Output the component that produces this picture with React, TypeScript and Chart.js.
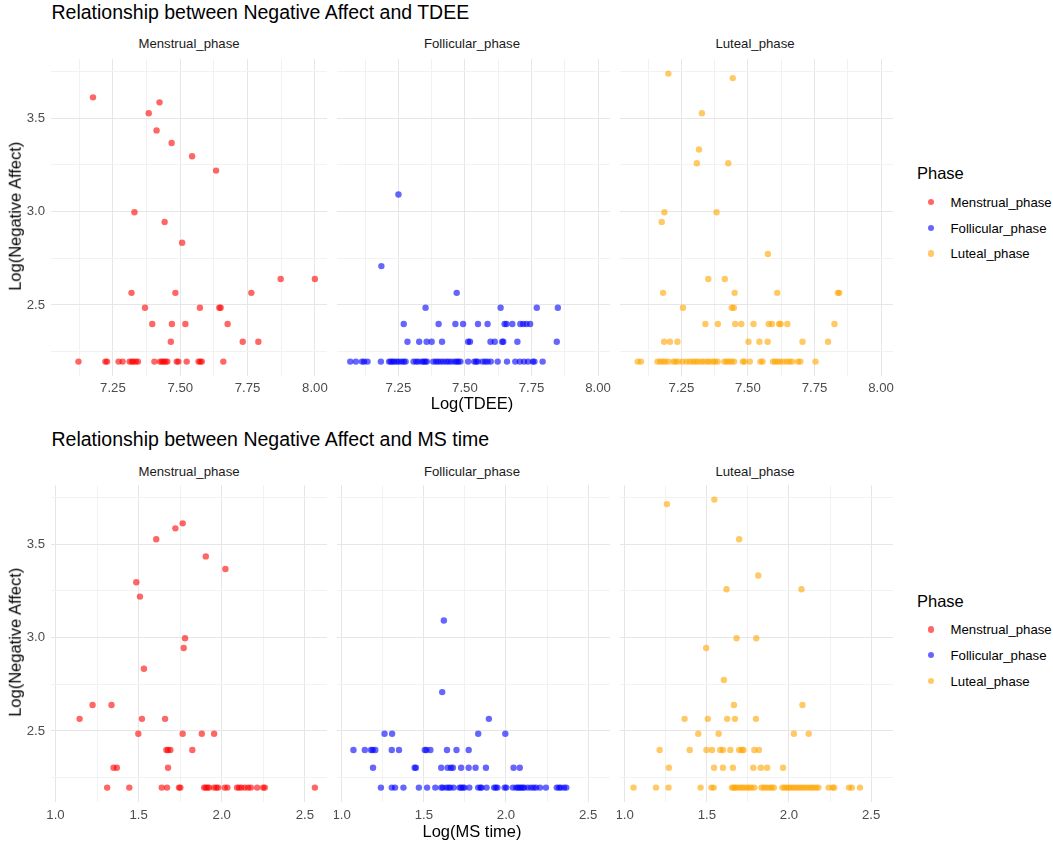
import React, { useEffect, useRef } from 'react';
import { Chart, registerables } from 'chart.js';

Chart.register(...registerables);

type Pt = [number, number];

const FONT = '"Liberation Sans", Arial, Helvetica, sans-serif';

// ---- data: [log(x), log(Negative Affect)] ----

const tdeeMenstrual: Pt[] = [
    [7.176, 3.611], [7.423, 3.584], [7.383, 3.526], [7.412, 3.434], [7.468, 3.367],
    [7.544, 3.296], [7.633, 3.219], [7.330, 2.996], [7.442, 2.944], [7.507, 2.833],
    [7.873, 2.639], [8.000, 2.639], [7.319, 2.565], [7.482, 2.565], [7.764, 2.565],
    [7.369, 2.485], [7.573, 2.485], [7.645, 2.485], [7.650, 2.485],
    [7.396, 2.398], [7.469, 2.398], [7.519, 2.398], [7.676, 2.398],
    [7.465, 2.303], [7.732, 2.303], [7.790, 2.303],
    [7.122, 2.197], [7.222, 2.197], [7.228, 2.197], [7.271, 2.197], [7.286, 2.197],
    [7.312, 2.197], [7.320, 2.197], [7.326, 2.197], [7.335, 2.197], [7.343, 2.197],
    [7.404, 2.197], [7.425, 2.197], [7.432, 2.197], [7.438, 2.197], [7.445, 2.197],
    [7.452, 2.197], [7.487, 2.197], [7.493, 2.197], [7.524, 2.197], [7.568, 2.197],
    [7.574, 2.197], [7.580, 2.197], [7.660, 2.197],
];

const tdeeFollicular: Pt[] = [
    [7.250, 3.091], [7.186, 2.708], [7.469, 2.565],
    [7.352, 2.485], [7.634, 2.485], [7.770, 2.485], [7.849, 2.485],
    [7.270, 2.398], [7.401, 2.398], [7.464, 2.398], [7.493, 2.398], [7.549, 2.398],
    [7.585, 2.398], [7.649, 2.398], [7.656, 2.398], [7.678, 2.398], [7.708, 2.398],
    [7.719, 2.398], [7.731, 2.398], [7.745, 2.398],
    [7.284, 2.303], [7.328, 2.303], [7.356, 2.303], [7.375, 2.303], [7.414, 2.303],
    [7.512, 2.303], [7.519, 2.303], [7.596, 2.303], [7.612, 2.303], [7.640, 2.303],
    [7.644, 2.303], [7.697, 2.303], [7.845, 2.303],
    [7.069, 2.197], [7.090, 2.197], [7.113, 2.197], [7.121, 2.197], [7.134, 2.197],
    [7.184, 2.197], [7.215, 2.197], [7.221, 2.197], [7.228, 2.197], [7.234, 2.197],
    [7.243, 2.197], [7.251, 2.197], [7.261, 2.197], [7.270, 2.197], [7.277, 2.197],
    [7.307, 2.197], [7.317, 2.197], [7.325, 2.197], [7.338, 2.197], [7.345, 2.197],
    [7.351, 2.197], [7.357, 2.197], [7.381, 2.197], [7.391, 2.197], [7.399, 2.197],
    [7.409, 2.197], [7.419, 2.197], [7.430, 2.197], [7.439, 2.197], [7.449, 2.197],
    [7.461, 2.197], [7.469, 2.197], [7.475, 2.197], [7.483, 2.197], [7.512, 2.197],
    [7.535, 2.197], [7.542, 2.197], [7.548, 2.197], [7.566, 2.197], [7.576, 2.197],
    [7.585, 2.197], [7.597, 2.197], [7.623, 2.197], [7.658, 2.197], [7.689, 2.197],
    [7.706, 2.197], [7.722, 2.197], [7.737, 2.197], [7.755, 2.197], [7.761, 2.197],
    [7.792, 2.197],
];

const tdeeLuteal: Pt[] = [
    [7.201, 3.738], [7.443, 3.714], [7.327, 3.526], [7.316, 3.332], [7.308, 3.258],
    [7.426, 3.258], [7.186, 2.996], [7.382, 2.996], [7.176, 2.944], [7.575, 2.773],
    [7.351, 2.639], [7.413, 2.639],
    [7.181, 2.565], [7.450, 2.565], [7.610, 2.565], [7.838, 2.565], [7.843, 2.565],
    [7.256, 2.485], [7.439, 2.485], [7.447, 2.485],
    [7.340, 2.398], [7.387, 2.398], [7.452, 2.398], [7.475, 2.398], [7.521, 2.398],
    [7.578, 2.398], [7.590, 2.398], [7.617, 2.398], [7.623, 2.398], [7.648, 2.398],
    [7.825, 2.398],
    [7.185, 2.303], [7.207, 2.303], [7.235, 2.303], [7.502, 2.303], [7.543, 2.303],
    [7.574, 2.303], [7.705, 2.303], [7.801, 2.303],
    [7.086, 2.197], [7.098, 2.197], [7.160, 2.197], [7.170, 2.197], [7.180, 2.197],
    [7.189, 2.197], [7.201, 2.197], [7.220, 2.197], [7.228, 2.197], [7.238, 2.197],
    [7.254, 2.197], [7.269, 2.197], [7.281, 2.197], [7.293, 2.197], [7.302, 2.197],
    [7.312, 2.197], [7.324, 2.197], [7.334, 2.197], [7.347, 2.197], [7.355, 2.197],
    [7.368, 2.197], [7.376, 2.197], [7.386, 2.197], [7.411, 2.197], [7.420, 2.197],
    [7.429, 2.197], [7.439, 2.197], [7.448, 2.197], [7.481, 2.197], [7.487, 2.197],
    [7.507, 2.197], [7.547, 2.197], [7.555, 2.197], [7.594, 2.197], [7.602, 2.197],
    [7.612, 2.197], [7.621, 2.197], [7.633, 2.197], [7.646, 2.197], [7.656, 2.197],
    [7.666, 2.197], [7.688, 2.197], [7.697, 2.197], [7.754, 2.197],
];

const msMenstrual: Pt[] = [
    [1.765, 3.611], [1.721, 3.584], [1.606, 3.526], [1.904, 3.434], [2.022, 3.367],
    [1.486, 3.296], [1.508, 3.219], [1.779, 2.996], [1.771, 2.944], [1.532, 2.833],
    [1.223, 2.639], [1.337, 2.639],
    [1.145, 2.565], [1.520, 2.565], [1.659, 2.565],
    [1.498, 2.485], [1.765, 2.485], [1.880, 2.485], [1.954, 2.485],
    [1.667, 2.398], [1.677, 2.398], [1.691, 2.398], [1.823, 2.398],
    [1.349, 2.303], [1.369, 2.303], [1.677, 2.303],
    [1.311, 2.197], [1.444, 2.197], [1.639, 2.197], [1.671, 2.197], [1.743, 2.197],
    [1.751, 2.197], [1.894, 2.197], [1.904, 2.197], [1.914, 2.197], [1.924, 2.197],
    [1.954, 2.197], [1.968, 2.197], [1.978, 2.197], [2.018, 2.197], [2.034, 2.197],
    [2.092, 2.197], [2.104, 2.197], [2.118, 2.197], [2.139, 2.197], [2.159, 2.197],
    [2.175, 2.197], [2.213, 2.197], [2.249, 2.197], [2.259, 2.197], [2.560, 2.197],
];

const msFollicular: Pt[] = [
    [1.622, 3.091], [1.612, 2.708], [1.896, 2.565],
    [1.261, 2.485], [1.307, 2.485], [1.831, 2.485], [1.996, 2.485],
    [1.072, 2.398], [1.141, 2.398], [1.179, 2.398], [1.189, 2.398], [1.205, 2.398],
    [1.305, 2.398], [1.349, 2.398], [1.506, 2.398], [1.516, 2.398], [1.540, 2.398],
    [1.641, 2.398], [1.699, 2.398], [1.773, 2.398],
    [1.191, 2.303], [1.444, 2.303], [1.452, 2.303], [1.606, 2.303], [1.645, 2.303],
    [1.665, 2.303], [1.677, 2.303], [1.727, 2.303], [1.773, 2.303], [1.815, 2.303],
    [1.878, 2.303], [2.046, 2.303], [2.084, 2.303],
    [1.239, 2.197], [1.305, 2.197], [1.325, 2.197], [1.376, 2.197], [1.470, 2.197],
    [1.520, 2.197], [1.570, 2.197], [1.606, 2.197], [1.616, 2.197], [1.637, 2.197],
    [1.651, 2.197], [1.661, 2.197], [1.681, 2.197], [1.717, 2.197], [1.727, 2.197],
    [1.737, 2.197], [1.747, 2.197], [1.777, 2.197], [1.831, 2.197], [1.845, 2.197],
    [1.851, 2.197], [1.882, 2.197], [1.928, 2.197], [1.938, 2.197], [1.948, 2.197],
    [1.992, 2.197], [2.002, 2.197], [2.042, 2.197], [2.062, 2.197], [2.072, 2.197],
    [2.082, 2.197], [2.092, 2.197], [2.102, 2.197], [2.112, 2.197], [2.133, 2.197],
    [2.153, 2.197], [2.169, 2.197], [2.183, 2.197], [2.207, 2.197], [2.243, 2.197],
    [2.309, 2.197], [2.323, 2.197], [2.333, 2.197], [2.353, 2.197], [2.367, 2.197],
];

const msLuteal: Pt[] = [
    [1.257, 3.714], [1.546, 3.738], [1.697, 3.526], [1.813, 3.332], [1.620, 3.258],
    [2.076, 3.258], [1.681, 2.996], [1.801, 2.996], [1.496, 2.944], [1.604, 2.773],
    [1.665, 2.639], [2.082, 2.639],
    [1.365, 2.565], [1.506, 2.565], [1.624, 2.565], [1.671, 2.565], [1.799, 2.565],
    [1.448, 2.485], [1.572, 2.485], [2.030, 2.485], [2.120, 2.485],
    [1.213, 2.398], [1.396, 2.398], [1.498, 2.398], [1.532, 2.398], [1.582, 2.398],
    [1.598, 2.398], [1.643, 2.398], [1.697, 2.398], [1.713, 2.398], [1.723, 2.398],
    [1.789, 2.398], [1.817, 2.398],
    [1.269, 2.303], [1.544, 2.303], [1.598, 2.303], [1.659, 2.303], [1.783, 2.303],
    [1.829, 2.303], [1.867, 2.303], [1.964, 2.303],
    [1.054, 2.197], [1.191, 2.197], [1.267, 2.197], [1.462, 2.197], [1.528, 2.197],
    [1.542, 2.197], [1.653, 2.197], [1.663, 2.197], [1.673, 2.197], [1.683, 2.197],
    [1.699, 2.197], [1.713, 2.197], [1.727, 2.197], [1.743, 2.197], [1.757, 2.197],
    [1.771, 2.197], [1.789, 2.197], [1.833, 2.197], [1.847, 2.197], [1.863, 2.197],
    [1.880, 2.197], [1.894, 2.197], [1.908, 2.197], [1.960, 2.197], [1.974, 2.197],
    [1.988, 2.197], [2.000, 2.197], [2.014, 2.197], [2.028, 2.197], [2.044, 2.197],
    [2.058, 2.197], [2.074, 2.197], [2.088, 2.197], [2.104, 2.197], [2.120, 2.197],
    [2.135, 2.197], [2.149, 2.197], [2.165, 2.197], [2.179, 2.197], [2.241, 2.197],
    [2.265, 2.197], [2.275, 2.197], [2.365, 2.197], [2.382, 2.197], [2.432, 2.197],
];

const phases = ['Menstrual_phase', 'Follicular_phase', 'Luteal_phase'];
const phaseColors = ['rgba(255,0,0,0.6)', 'rgba(0,0,255,0.6)', 'rgba(255,165,0,0.6)'];

// axis breaks (major labelled, minor only gridlines) and limits
const tdeeMajor = [7.25, 7.5, 7.75, 8.0];
const tdeeMinor = [7.125, 7.375, 7.625, 7.875];
const tdeeLimits = [7.02, 8.045];
const msMajor = [1.0, 1.5, 2.0, 2.5];
const msMinor = [1.25, 1.75, 2.25];
const msLimits = [0.973, 2.633];
const naMajor = [2.5, 3.0, 3.5];
const naMinor = [2.25, 2.75, 3.25, 3.75];
const naLimits = [2.12, 3.815];

// layout
const PANEL_LEFT = [51, 334, 617];
const PANEL_W = 276;
const PANEL_H = 320;
const Y_AXIS_W = 51;
const X_AXIS_H = 26;
const RIGHT_PAD = 14;
const BASE = 0.8465; // baseline offset for line-height == font-size
const MAJOR_GRID = '#e6e6e6';
const MINOR_GRID = '#f2f2f2';
const TICK_COLOR = '#4d4d4d';

interface PanelProps {
    points: Pt[];
    color: string;
    xLimits: number[];
    xMajor: number[];
    xMinor: number[];
    digits: number;
    showY: boolean;
    left: number;
    top: number;
    tickPad: number;
}

const Panel: React.FC<PanelProps> = ({ points, color, xLimits, xMajor, xMinor, digits, showY, left, top, tickPad }) => {
    const canvasRef = useRef<HTMLCanvasElement | null>(null);
    const yw = showY ? Y_AXIS_W : 0;

    useEffect(() => {
        if (!canvasRef.current) return;
        const xTicks = [...xMajor, ...xMinor].sort((a, b) => a - b);
        const yTicks = [...naMajor, ...naMinor].sort((a, b) => a - b);

        const chart = new Chart(canvasRef.current, {
            type: 'scatter',
            data: {
                datasets: [{
                    data: points.map(([x, y]) => ({ x, y })),
                    backgroundColor: color,
                    borderWidth: 0,
                    pointRadius: 3.2,
                    pointHoverRadius: 3.2,
                }],
            },
            options: {
                animation: false,
                responsive: false,
                events: [],
                layout: { padding: { left: 0, right: RIGHT_PAD, top: 0, bottom: 0 } },
                plugins: { legend: { display: false }, tooltip: { enabled: false } },
                scales: {
                    x: {
                        type: 'linear',
                        min: xLimits[0],
                        max: xLimits[1],
                        border: { display: false },
                        grid: {
                            drawTicks: false,
                            lineWidth: 1,
                            color: (ctx: any) => (ctx.tick && xMinor.includes(ctx.tick.value) ? MINOR_GRID : MAJOR_GRID),
                        },
                        ticks: {
                            autoSkip: false,
                            maxRotation: 0,
                            minRotation: 0,
                            padding: tickPad,
                            color: TICK_COLOR,
                            font: { family: FONT, size: 13.2 },
                            callback: (v: any) => (xMajor.includes(Number(v)) ? Number(v).toFixed(digits) : ''),
                        },
                        afterBuildTicks: (s: any) => {
                            s.ticks = xTicks.map((value) => ({ value }));
                        },
                        afterFit: (s: any) => {
                            s.height = X_AXIS_H;
                            s.paddingLeft = 0;
                            s.paddingRight = 0;
                        },
                    },
                    y: {
                        type: 'linear',
                        min: naLimits[0],
                        max: naLimits[1],
                        border: { display: false },
                        grid: {
                            drawTicks: false,
                            lineWidth: 1,
                            color: (ctx: any) => (ctx.tick && naMinor.includes(ctx.tick.value) ? MINOR_GRID : MAJOR_GRID),
                        },
                        ticks: {
                            display: showY,
                            autoSkip: false,
                            padding: 6,
                            color: TICK_COLOR,
                            font: { family: FONT, size: 13.2 },
                            callback: (v: any) => (naMajor.includes(Number(v)) ? Number(v).toFixed(1) : ''),
                        },
                        afterBuildTicks: (s: any) => {
                            s.ticks = yTicks.map((value) => ({ value }));
                        },
                        afterFit: (s: any) => {
                            s.width = yw;
                            s.paddingTop = 0;
                            s.paddingBottom = 0;
                        },
                    },
                },
            },
        });

        return () => {
            chart.destroy();
        };
    }, []);

    return (
        <canvas
            ref={canvasRef}
            width={yw + PANEL_W + RIGHT_PAD}
            height={PANEL_H + X_AXIS_H}
            style={{ position: 'absolute', left: left - yw, top }}
        />
    );
};

interface TextProps {
    x: number;
    baseline: number;
    size: number;
    color?: string;
    center?: boolean;
    children: React.ReactNode;
}

const Text: React.FC<TextProps> = ({ x, baseline, size, color = '#000', center = false, children }) => (
    <div
        style={{
            position: 'absolute',
            left: center ? x - 200 : x,
            top: baseline - size * BASE,
            width: center ? 400 : undefined,
            textAlign: center ? 'center' : 'left',
            fontSize: size,
            lineHeight: `${size}px`,
            color,
            whiteSpace: 'nowrap',
        }}
    >
        {children}
    </div>
);

const rows = [
    {
        title: 'Relationship between Negative Affect and TDEE',
        xTitle: 'Log(TDEE)',
        panels: [tdeeMenstrual, tdeeFollicular, tdeeLuteal],
        xLimits: tdeeLimits,
        xMajor: tdeeMajor,
        xMinor: tdeeMinor,
        digits: 2,
        top: 56,
        tickPad: 4.5,
        titleBase: 19.3,
        stripBase: 48.3,
        xTitleBase: 408.7,
        legendBase: 179.3,
    },
    {
        title: 'Relationship between Negative Affect and MS time',
        xTitle: 'Log(MS time)',
        panels: [msMenstrual, msFollicular, msLuteal],
        xLimits: msLimits,
        xMajor: msMajor,
        xMinor: msMinor,
        digits: 1,
        top: 482,
        tickPad: 5.5,
        titleBase: 446.5,
        stripBase: 476,
        xTitleBase: 836.7,
        legendBase: 606.7,
    },
];

const App: React.FC = () => (
    <div
        style={{
            position: 'absolute',
            left: 0,
            top: 0,
            width: 1053,
            height: 848,
            background: '#fff',
            fontFamily: FONT,
            overflow: 'hidden',
        }}
    >
        {rows.map((row, r) => (
            <React.Fragment key={r}>
                <Text x={51.5} baseline={row.titleBase} size={19.5}>{row.title}</Text>
                {row.panels.map((pts, i) => (
                    <React.Fragment key={i}>
                        <Text x={PANEL_LEFT[i] + PANEL_W / 2} baseline={row.stripBase} size={13.2} color="#1a1a1a" center>
                            {phases[i]}
                        </Text>
                        <Panel
                            points={pts}
                            color={phaseColors[i]}
                            xLimits={row.xLimits}
                            xMajor={row.xMajor}
                            xMinor={row.xMinor}
                            digits={row.digits}
                            showY={i === 0}
                            left={PANEL_LEFT[i]}
                            top={row.top}
                            tickPad={row.tickPad}
                        />
                    </React.Fragment>
                ))}
                <Text x={PANEL_LEFT[1] + PANEL_W / 2} baseline={row.xTitleBase} size={16.5} center>{row.xTitle}</Text>
                <div
                    style={{
                        position: 'absolute',
                        left: 15 - 160,
                        top: row.top + PANEL_H / 2 - 16.5 / 2,
                        width: 320,
                        textAlign: 'center',
                        fontSize: 16.5,
                        lineHeight: '16.5px',
                        transform: 'rotate(-90deg)',
                        whiteSpace: 'nowrap',
                    }}
                >
                    Log(Negative Affect)
                </div>
                <Text x={917} baseline={row.legendBase} size={16.5}>Phase</Text>
                {phases.map((p, i) => (
                    <React.Fragment key={p}>
                        <div
                            style={{
                                position: 'absolute',
                                left: 930.7 - 3.2,
                                top: row.legendBase + 22.7 + i * 25.7 - 3.2,
                                width: 6.4,
                                height: 6.4,
                                borderRadius: '50%',
                                background: phaseColors[i],
                            }}
                        />
                        <Text x={950.5} baseline={row.legendBase + 27.7 + i * 25.7} size={13.2}>{p}</Text>
                    </React.Fragment>
                ))}
            </React.Fragment>
        ))}
    </div>
);

export default App;
